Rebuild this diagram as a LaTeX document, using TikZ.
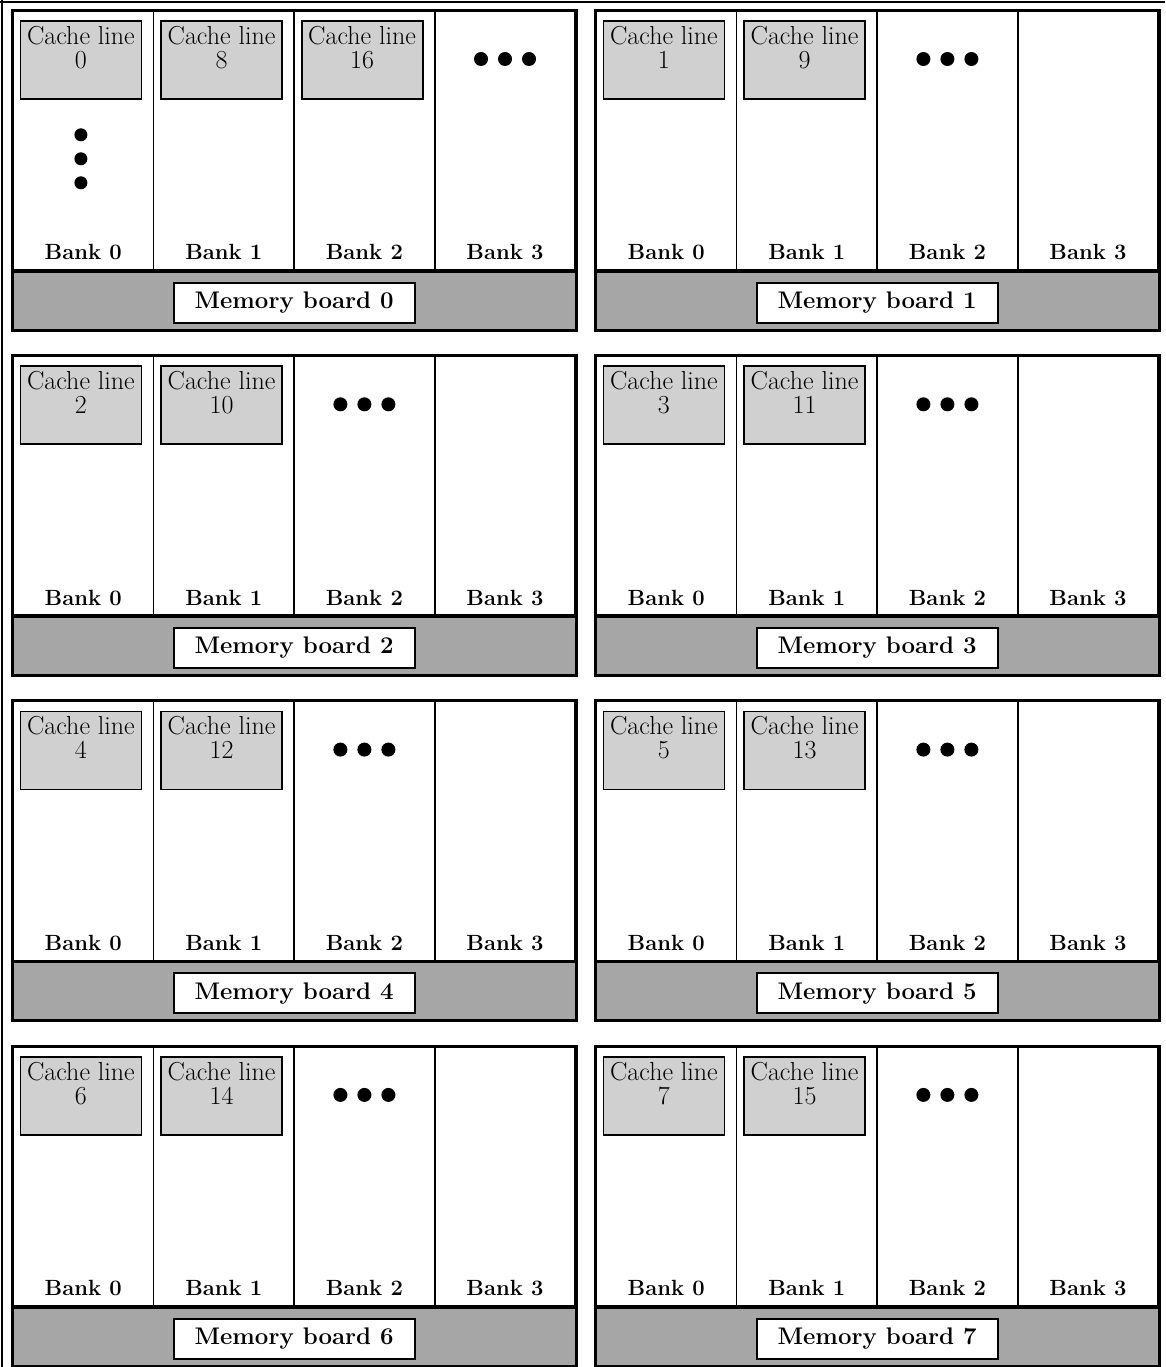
\documentclass[tikz,border=0pt]{standalone}
\usepackage{tikz}
\usetikzlibrary{positioning, calc}
\definecolor{linegray}{HTML}{D0D0D0}
\definecolor{boardgray}{HTML}{A6A6A6}
\tikzset{
    bank/.style={rectangle, draw=black, line width=1.8pt, fill=white, minimum width=140.6pt, minimum height=259pt, inner sep=0pt},
    cachebox/.style={rectangle, draw=black, line width=1.8pt, fill=linegray, minimum width=121pt, minimum height=78pt, inner sep=0pt},
    celltext/.style={align=center, inner sep=0pt, font=\fontsize{26}{24}\selectfont},
    banklabel/.style={anchor=base, inner sep=0pt, font=\fontsize{22}{24}\selectfont\bfseries},
    boardbar/.style={rectangle, draw=black, line width=1.8pt, fill=boardgray, minimum width=562.5pt, minimum height=58pt, inner sep=0pt},
    boardlabel/.style={rectangle, draw=black, line width=1.8pt, fill=white, minimum width=241pt, minimum height=40pt, inner sep=0pt, font=\fontsize{24}{24}\selectfont\bfseries},
    boardedge/.style={draw=black, line width=2.4pt},
    frameline/.style={draw=black, line width=2.5pt}
}

\begin{document}
\begin{tikzpicture}[x=1pt, y=-1pt]
    \useasboundingbox (0,0) rectangle (1165,1367);
    \draw[frameline] (0,2) -- (1165,2) (2,0) -- (2,1367);
    \foreach \b in {0,...,7} {
        \pgfmathsetmacro{\bx}{mod(\b,2)==0 ? 12 : 595}
        \pgfmathsetmacro{\by}{10+345.3*int(\b/2)}
        % four banks and the board bar
        \foreach \k in {0,...,3} {
            \node[bank, anchor=north west] (bank\b\k) at (\bx+\k*140.6, \by) {};
            \node[banklabel] (bl\b\k) at ($(bank\b\k.south)+(0,-11)$) {Bank \k};
        }
        \node[boardbar, anchor=north west] (bar\b) at (bank\b0.south west) {};
        \node[boardlabel] (ml\b) at ($(bar\b.center)+(0,2)$) {Memory board \b};
        \draw[boardedge] (bank\b0.north west) rectangle (bar\b.south east);
        % cache lines
        \pgfmathtruncatemacro{\last}{\b==0 ? 2 : 1}
        \foreach \k in {0,...,\last} {
            \pgfmathtruncatemacro{\n}{\b+8*\k}
            \node[cachebox, anchor=north west] (cl\b\k) at ($(bank\b\k.north west)+(7.5,10)$) {};
            \node[celltext, anchor=north] (ct\b\k) at ($(cl\b\k.north)+(0,6)$) {Cache line\\\n};
        }
        \pgfmathtruncatemacro{\dk}{\last+1}
        \foreach \d in {-24,0,24}
            \fill ($(bank\b\dk.north)+(\d,49)$) circle (7);
    }
    % column of dots under cache line 0
    \foreach \d in {0,24,48}
        \fill ($(cl00.south)+(0,35+\d)$) circle (6.5);
\end{tikzpicture}
\end{document}
